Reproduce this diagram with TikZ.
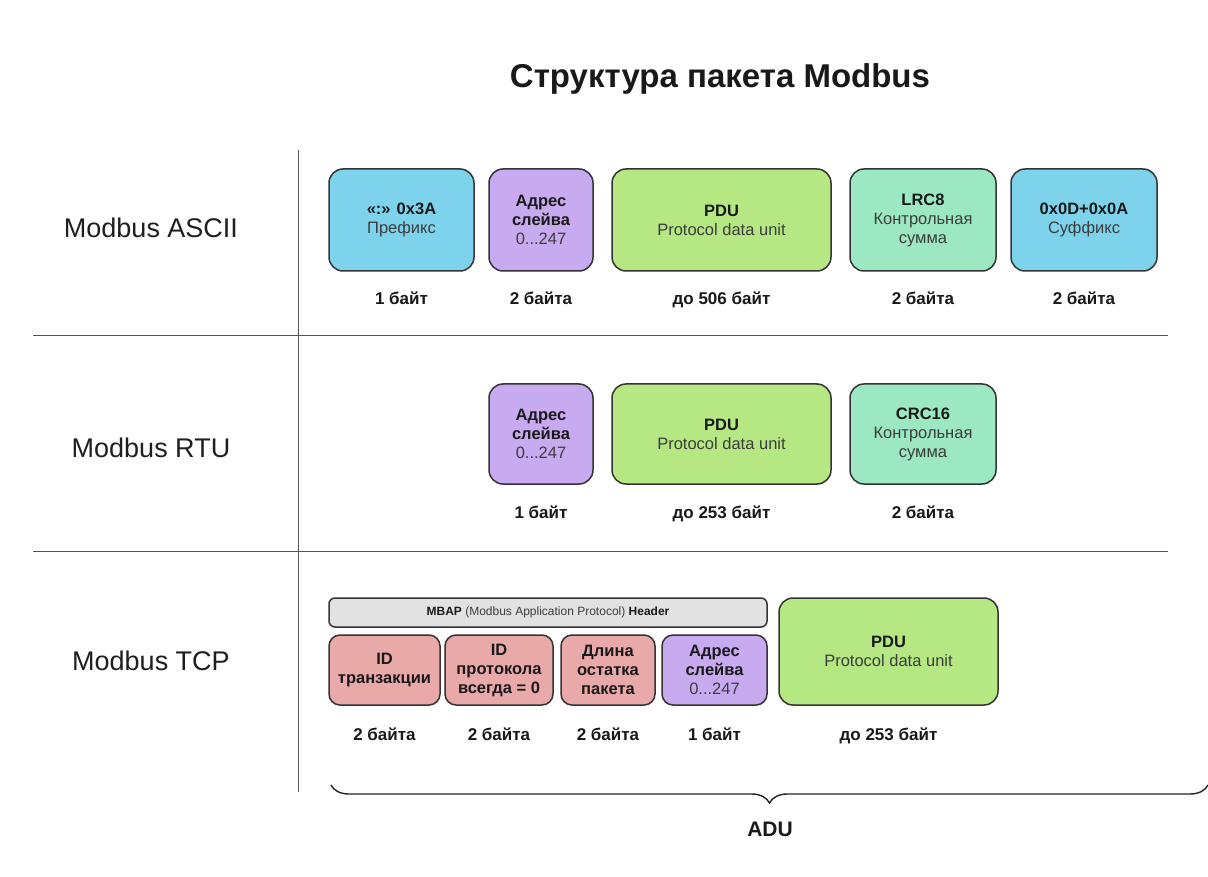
\documentclass[tikz,border=0pt]{standalone}
\usepackage{fontspec}
\setmainfont{Liberation Sans}
\usetikzlibrary{decorations.pathreplacing}
\definecolor{cblue}{HTML}{7ED3EC}
\definecolor{cpurple}{HTML}{C8AAF0}
\definecolor{cgreen}{HTML}{B5E882}
\definecolor{cmint}{HTML}{9CE8C2}
\definecolor{cpink}{HTML}{EAA9A9}
\definecolor{cgray}{HTML}{E2E2E2}
\definecolor{subgray}{HTML}{3C3C3C}
\definecolor{edge}{HTML}{333333}
\definecolor{sepline}{HTML}{555555}
\newcommand\subtxt[1]{{\color{subgray}\mdseries #1}}
\begin{document}
\begin{tikzpicture}[x=1pt,y=-1pt,
  fieldbox/.style={draw=edge, line width=1.5pt, rounded corners=14pt, align=center, inner sep=0pt,
    font=\fontsize{16.5}{19}\selectfont\bfseries, text=black!90},
  smallbox/.style={fieldbox, rounded corners=11pt},
  sizelabel/.style={anchor=base, font=\fontsize{17}{19}\selectfont\bfseries, text=black!90},
  rowlabel/.style={font=\fontsize{27}{30}\selectfont, text=black!88},
  sep/.style={draw=sepline, line width=0.9pt}]
\useasboundingbox[fill=white] (0,0) rectangle (1208,877);

\node[anchor=base, font=\fontsize{33}{36}\selectfont\bfseries, text=black!90] (title) at (720,88) {Структура пакета Modbus};

% separators
\coordinate (vtop) at (298,150);
\coordinate (vbot) at (298,792);
\coordinate (h1l) at (33,335);
\coordinate (h1r) at (1168,335);
\coordinate (h2l) at (33,551);
\coordinate (h2r) at (1168,551);
\draw[sep] (vtop) -- (vbot);
\draw[sep] (h1l) -- (h1r);
\draw[sep] (h2l) -- (h2r);

% row labels
\node[rowlabel] (lascii) at (151,228) {Modbus ASCII};
\node[rowlabel] (lrtu) at (151,448) {Modbus RTU};
\node[rowlabel] (ltcp) at (151,661) {Modbus TCP};

% ASCII row
\node[fieldbox, fill=cblue, minimum width=145pt, minimum height=102pt] (a1) at (401.5,220) {«:» 0x3A\\\subtxt{Префикс}};
\node[fieldbox, fill=cpurple, minimum width=104pt, minimum height=102pt] (a2) at (541,220) {Адрес\\слейва\\\subtxt{0...247}};
\node[fieldbox, fill=cgreen, minimum width=219pt, minimum height=102pt] (a3) at (721.5,220) {PDU\\\subtxt{Protocol data unit}};
\node[fieldbox, fill=cmint, minimum width=146pt, minimum height=102pt] (a4) at (923,220) {LRC8\\\subtxt{Контрольная}\\\subtxt{сумма}};
\node[fieldbox, fill=cblue, minimum width=146pt, minimum height=102pt] (a5) at (1084,220) {0x0D+0x0A\\\subtxt{Суффикс}};
\node[sizelabel] (sa1) at (401.5,305) {1 байт};
\node[sizelabel] (sa2) at (541,305) {2 байта};
\node[sizelabel] (sa3) at (721.5,305) {до 506 байт};
\node[sizelabel] (sa4) at (923,305) {2 байта};
\node[sizelabel] (sa5) at (1084,305) {2 байта};

% RTU row
\node[fieldbox, fill=cpurple, minimum width=104pt, minimum height=100pt] (r1) at (541,434) {Адрес\\слейва\\\subtxt{0...247}};
\node[fieldbox, fill=cgreen, minimum width=219pt, minimum height=100pt] (r2) at (721.5,434) {PDU\\\subtxt{Protocol data unit}};
\node[fieldbox, fill=cmint, minimum width=146pt, minimum height=100pt] (r3) at (923,434) {CRC16\\\subtxt{Контрольная}\\\subtxt{сумма}};
\node[sizelabel] (sr1) at (541,518) {1 байт};
\node[sizelabel] (sr2) at (721.5,518) {до 253 байт};
\node[sizelabel] (sr3) at (923,518) {2 байта};

% TCP row
\node[fieldbox, fill=cgray, rounded corners=6pt, minimum width=438pt, minimum height=29pt,
  font=\fontsize{12}{14}\selectfont] (mbap) at (548,612.5) {\textbf{MBAP} \subtxt{(Modbus Application Protocol)} \textbf{Header}};
\node[smallbox, fill=cpink, minimum width=111pt, minimum height=70pt] (t1) at (384.5,670) {ID\\транзакции};
\node[smallbox, fill=cpink, minimum width=108pt, minimum height=70pt] (t2) at (499,670) {ID\\протокола\\всегда = 0};
\node[smallbox, fill=cpink, minimum width=94pt, minimum height=70pt] (t3) at (608,670) {Длина\\остатка\\пакета};
\node[smallbox, fill=cpurple, minimum width=105pt, minimum height=70pt] (t4) at (714.5,670) {Адрес\\слейва\\\subtxt{0...247}};
\node[fieldbox, fill=cgreen, minimum width=219pt, minimum height=107pt] (t5) at (888.5,651.5) {PDU\\\subtxt{Protocol data unit}};
\node[sizelabel] (st1) at (384.5,740) {2 байта};
\node[sizelabel] (st2) at (499,740) {2 байта};
\node[sizelabel] (st3) at (608,740) {2 байта};
\node[sizelabel] (st4) at (714.5,740) {1 байт};
\node[sizelabel] (st5) at (888.5,740) {до 253 байт};

% ADU brace
\coordinate (bl) at (331,785);
\coordinate (br) at (1208,785);
\draw[decorate, decoration={brace, mirror, amplitude=18pt}, line width=1.4pt, draw=black!85] (bl) -- (br);
\node[font=\fontsize{21}{24}\selectfont\bfseries, text=black!90] (adu) at (770,829) {ADU};
\end{tikzpicture}
\end{document}
